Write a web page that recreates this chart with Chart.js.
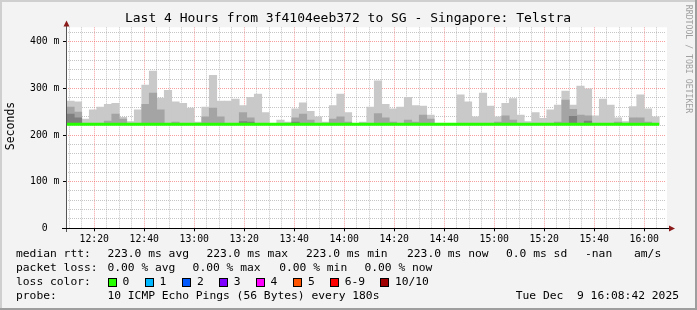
<!DOCTYPE html>
<html>
<head>
<meta charset="utf-8">
<title>SmokePing - 3f4104eeb372 to SG</title>
<script src="https://cdn.jsdelivr.net/npm/chart.js"></script>
<style>
  html, body { margin: 0; padding: 0; background: #f3f3f3; }
  canvas { display: block; }
</style>
</head>
<body>
<canvas id="smokeChart" width="697" height="310"></canvas>
<script>
// time axis in minutes after 12:00, window 12:08:42 - 16:08:42
const xMin = 8.7;
const xMax = 248.7;
const binStart = 9;   // first 3 minute bin starts 12:09
const binStep = 3;

// smoke per bin (ms): top of light, mid and dark layers, null = nothing above median
const smokeMax = [273, 271, 234, 254, 260, 266, 268, 238, 229, 254,
                  307, 337, 279, 296, 271, 268, 258, 228, 260, 328,
                  273, 273, 277, 263, 281, 288, 248, null, 232, 228,
                  256, 269, 251, 239, 228, 263, 288, 248, null, 228,
                  260, 316, 266, 256, 260, 281, 263, 262, 243, null,
                  null, null, 286, 271, 239, 290, 262, 239, 268, 278,
                  243, 229, 248, 236, 254, 264, 294, 264, 305, 299,
                  241, 277, 264, 237, 229, 261, 286, 256, 239];
const smokeMid = [260, 249, null, null, null, 230, 245, 234, null, null,
                  266, 290, 254, null, 228, null, null, null, 239, 258,
                  239, null, null, 248, 237, null, null, null, null, null,
                  237, 245, 232, null, null, 234, 239, 228, null, null,
                  null, 246, 237, 228, null, 232, 228, 243, 234, null,
                  null, null, null, null, null, null, null, 228, 241, 232,
                  null, null, null, null, null, 228, 275, 255, 243, 241,
                  null, null, null, 228, null, 237, 237, 228, null];
const smokeDark = [245, 237, null, null, null, null, null, null, null, null,
                   null, null, null, null, null, null, null, null, null, null,
                   null, null, null, 229, 228, null, null, null, null, null,
                   228, null, null, null, null, null, null, null, null, null,
                   null, null, null, null, null, null, null, null, null, null,
                   null, null, null, null, null, null, null, null, null, null,
                   null, null, null, null, null, null, null, 240, null, 230,
                   null, null, null, null, null, null, null, null, null];
const smokeFloor = 223.0;
const medianRtt = 223.0;

const xTickMinutes = [20, 40, 60, 80, 100, 120, 140, 160, 180, 200, 220, 240];
const xTickLabels = ['12:20', '12:40', '13:00', '13:20', '13:40', '14:00',
                     '14:20', '14:40', '15:00', '15:20', '15:40', '16:00'];
const yTickValues = [0, 100, 200, 300, 400];
const yTickLabels = ['0  ', '100 m', '200 m', '300 m', '400 m'];

const medianStats = ['223.0 ms avg', '223.0 ms max', '223.0 ms min', '223.0 ms now', '0.0 ms sd', '-nan', 'am/s'];
const lossStats = ['0.00 % avg', '0.00 % max', '0.00 % min', '0.00 % now'];
const lossLabels = ['0', '1', '2', '3', '4', '5', '6-9', '10/10'];
const lossColors = ['#26ff00', '#00b8ff', '#0059ff', '#7e00ff', '#ff00ff', '#ff5500', '#ff0000', '#a10000'];

const MONO = "'DejaVu Sans Mono', 'Liberation Mono', monospace";

function smokeLayer(values) {
    const out = [];
    values.forEach((v, i) => {
        if (v !== null) out.push({ x: binStart + binStep * i + binStep / 2, y: [smokeFloor, v] });
    });
    return out;
}

const smokeFrame = {
    id: 'smokeFrame',
    beforeDraw(chart) {
        const ctx = chart.ctx, a = chart.chartArea;
        ctx.save();
        ctx.fillStyle = '#f3f3f3';
        ctx.fillRect(0, 0, chart.width, chart.height);
        ctx.fillStyle = '#cfcfcf';
        ctx.fillRect(0, 0, chart.width, 2);
        ctx.fillRect(0, 0, 2, chart.height);
        ctx.fillStyle = '#9e9e9e';
        ctx.fillRect(0, chart.height - 2, chart.width, 2);
        ctx.fillRect(chart.width - 2, 0, 2, chart.height);
        ctx.fillStyle = '#ffffff';
        ctx.fillRect(a.left, a.top, a.right - a.left + 1, a.bottom - a.top);
        ctx.restore();
    },
    afterDraw(chart) {
        const ctx = chart.ctx, a = chart.chartArea;
        ctx.save();

        // axes with arrows
        ctx.lineWidth = 1;
        ctx.strokeStyle = '#555';
        ctx.beginPath();
        ctx.moveTo(66.5, 232);
        ctx.lineTo(66.5, 23);
        ctx.stroke();
        ctx.strokeStyle = '#000';
        ctx.beginPath();
        ctx.moveTo(62, 228.5);
        ctx.lineTo(670, 228.5);
        ctx.stroke();
        ctx.fillStyle = '#8b1a1a';
        ctx.beginPath();
        ctx.moveTo(66.5, 20.5);
        ctx.lineTo(63.5, 26.5);
        ctx.lineTo(69.5, 26.5);
        ctx.closePath();
        ctx.fill();
        ctx.beginPath();
        ctx.moveTo(675, 228.5);
        ctx.lineTo(669, 225.5);
        ctx.lineTo(669, 231.5);
        ctx.closePath();
        ctx.fill();

        // title
        ctx.fillStyle = '#000';
        ctx.textBaseline = 'middle';
        ctx.textAlign = 'center';
        ctx.font = '13px ' + MONO;
        ctx.fillText('Last 4 Hours from 3f4104eeb372 to SG - Singapore: Telstra', 348, 19);

        // y axis title
        ctx.save();
        ctx.translate(11, 126);
        ctx.rotate(-Math.PI / 2);
        ctx.font = '11.5px ' + MONO;
        ctx.fillText('Seconds', 0, 0);
        ctx.restore();

        // credit
        ctx.save();
        ctx.translate(688, 59);
        ctx.rotate(Math.PI / 2);
        ctx.fillStyle = '#a0a0a0';
        ctx.font = '8.2px ' + MONO;
        ctx.fillText('RRDTOOL / TOBI OETIKER', 0, 0);
        ctx.restore();

        // legend block
        ctx.textAlign = 'left';
        ctx.font = '11.3px ' + MONO;
        ctx.fillStyle = '#000';
        const medianX = [107.4, 206.4, 306, 407, 506, 585, 634];
        ctx.fillText('median rtt:', 16, 254.3);
        medianStats.forEach((s, i) => ctx.fillText(s, medianX[i], 254.3));
        const lossX = [107.4, 192.6, 279.2, 364.4];
        ctx.fillText('packet loss:', 16, 268.3);
        lossStats.forEach((s, i) => ctx.fillText(s, lossX[i], 268.3));
        const boxX = [107.9, 145.1, 182.4, 219.3, 256.1, 293.4, 330.2, 380.4];
        ctx.fillText('loss color:', 16, 282.3);
        lossLabels.forEach((s, i) => {
            ctx.fillStyle = lossColors[i];
            ctx.fillRect(Math.round(boxX[i]) + 0.5, 278.5, 8, 8);
            ctx.strokeStyle = '#000';
            ctx.strokeRect(Math.round(boxX[i]) + 0.5, 278.5, 8, 8);
            ctx.fillStyle = '#000';
            ctx.fillText(s, boxX[i] + 14.5, 282.3);
        });
        ctx.fillText('probe:', 16, 296);
        ctx.fillText('10 ICMP Echo Pings (56 Bytes) every 180s', 107.4, 296);
        ctx.textAlign = 'right';
        ctx.fillText('Tue Dec  9 16:08:42 2025', 679, 296);
        ctx.restore();
    }
};

const minorX = [];
for (let m = 10; m <= 245; m += 5) minorX.push(m);
const minorY = [];
for (let v = 0; v <= 420; v += 20) minorY.push(v);

const isMajorX = v => xTickMinutes.indexOf(v) >= 0;
const isMajorY = v => v % 100 === 0;

new Chart(document.getElementById('smokeChart'), {
    type: 'bar',
    data: {
        datasets: [
            {
                type: 'line',
                label: 'median rtt',
                data: [{ x: binStart, y: medianRtt }, { x: binStart + binStep * smokeMax.length, y: medianRtt }],
                borderColor: '#26ff00',
                borderWidth: 3,
                pointRadius: 0,
                order: 0
            },
            { label: 'smoke dark', data: smokeLayer(smokeDark), backgroundColor: '#7f7f7f', order: 1 },
            { label: 'smoke mid', data: smokeLayer(smokeMid), backgroundColor: '#a4a4a4', order: 2 },
            { label: 'smoke', data: smokeLayer(smokeMax), backgroundColor: '#c9c9c9', order: 3 }
        ]
    },
    options: {
        responsive: false,
        animation: false,
        devicePixelRatio: 1,
        layout: { padding: { left: 0, right: 31, top: 27.3, bottom: 61.7 } },
        datasets: {
            bar: { grouped: false, barPercentage: 1, categoryPercentage: 1, borderWidth: 0 }
        },
        plugins: {
            legend: { display: false },
            title: { display: false },
            tooltip: { enabled: false }
        },
        scales: {
            x: {
                type: 'linear',
                min: xMin,
                max: xMax,
                offset: false,
                afterFit(scale) { scale.height = 20; },
                afterBuildTicks(scale) { scale.ticks = minorX.map(v => ({ value: v })); },
                border: {
                    display: false,
                    dash: ctx => isMajorX(ctx.tick.value) ? [1, 1] : [1, 1]
                },
                grid: {
                    offset: false,
                    color: ctx => isMajorX(ctx.tick.value) ? 'rgba(240,80,80,0.55)' : 'rgba(150,150,150,0.55)',
                    tickColor: ctx => isMajorX(ctx.tick.value) ? '#000' : 'rgba(0,0,0,0)',
                    tickLength: 3
                },
                ticks: {
                    autoSkip: false,
                    maxRotation: 0,
                    padding: 2,
                    color: '#000',
                    font: { family: MONO, size: 9.8 },
                    callback: v => {
                        const i = xTickMinutes.indexOf(v);
                        return i >= 0 ? xTickLabels[i] : '';
                    }
                }
            },
            y: {
                min: 0,
                max: 431,
                afterFit(scale) { scale.width = 66; },
                afterBuildTicks(scale) { scale.ticks = minorY.map(v => ({ value: v })); },
                border: { display: false, dash: [1, 1] },
                grid: {
                    color: ctx => isMajorY(ctx.tick.value) ? 'rgba(240,80,80,0.55)' : 'rgba(150,150,150,0.55)',
                    tickColor: ctx => isMajorY(ctx.tick.value) ? '#000' : 'rgba(0,0,0,0)',
                    tickLength: 3
                },
                ticks: {
                    autoSkip: false,
                    padding: 3.5,
                    color: '#000',
                    font: { family: MONO, size: 9.8 },
                    callback: v => {
                        const i = yTickValues.indexOf(v);
                        return i >= 0 ? yTickLabels[i] : '';
                    }
                }
            }
        }
    },
    plugins: [smokeFrame]
});
</script>
</body>
</html>
